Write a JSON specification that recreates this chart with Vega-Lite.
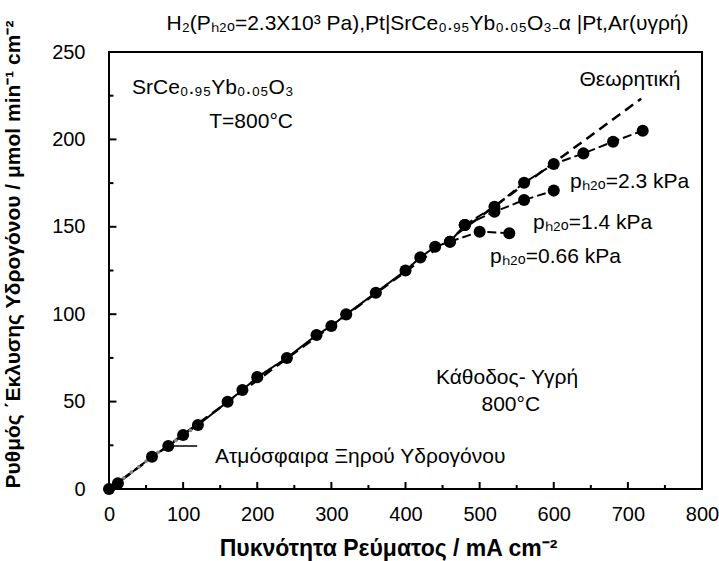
{
  "$schema": "https://vega.github.io/schema/vega-lite/v6.json",
  "width": 593,
  "height": 437,
  "autosize": {"type": "none"},
  "padding": {"left": 109, "top": 52, "right": 17, "bottom": 72},
  "background": "white",
  "config": {
    "font": "Liberation Sans",
    "view": {"stroke": "black", "strokeWidth": 2}
  },
  "title": {
    "text": "H₂(Pₕ₂ₒ=2.3X10³ Pa),Pt|SrCe₀.₉₅Yb₀.₀₅O₃₋α |Pt,Ar(υγρή)",
    "fontSize": 21,
    "fontWeight": "normal",
    "color": "black",
    "anchor": "middle",
    "dx": 22,
    "offset": -14
  },
  "datasets": {
    "theory": [
      {"x": 0, "y": 0},
      {"x": 718, "y": 223.3}
    ],
    "meas": [
      {"series": "common", "kind": "solid", "x": 0, "y": 0},
      {"series": "common", "kind": "solid", "x": 12, "y": 3.3},
      {"series": "common", "kind": "solid", "x": 58, "y": 18.5},
      {"series": "common", "kind": "solid", "x": 80, "y": 24.6},
      {"series": "common", "kind": "solid", "x": 100, "y": 30.9},
      {"series": "common", "kind": "solid", "x": 120, "y": 36.6},
      {"series": "common", "kind": "solid", "x": 160, "y": 49.9},
      {"series": "common", "kind": "solid", "x": 180, "y": 56.6},
      {"series": "common", "kind": "solid", "x": 200, "y": 64},
      {"series": "common", "kind": "solid", "x": 240, "y": 75},
      {"series": "common", "kind": "solid", "x": 280, "y": 88.1},
      {"series": "common", "kind": "solid", "x": 300, "y": 93.2},
      {"series": "common", "kind": "solid", "x": 320, "y": 99.9},
      {"series": "common", "kind": "solid", "x": 360, "y": 112.3},
      {"series": "common", "kind": "solid", "x": 400, "y": 125},
      {"series": "common", "kind": "solid", "x": 420, "y": 132.5},
      {"series": "common", "kind": "solid", "x": 440, "y": 138.6},
      {"series": "common", "kind": "solid", "x": 460, "y": 141.5},
      {"series": "common", "kind": "solid", "x": 480, "y": 151},
      {"series": "2.3", "kind": "dash", "x": 480, "y": 151},
      {"series": "2.3", "kind": "dash", "x": 520, "y": 161.5},
      {"series": "2.3", "kind": "dash", "x": 560, "y": 175.2},
      {"series": "2.3", "kind": "dash", "x": 600, "y": 185.9},
      {"series": "2.3", "kind": "dash", "x": 640, "y": 192},
      {"series": "2.3", "kind": "dash", "x": 680, "y": 198.7},
      {"series": "2.3", "kind": "dash", "x": 720, "y": 205},
      {"series": "1.4", "kind": "dash", "x": 480, "y": 151},
      {"series": "1.4", "kind": "dash", "x": 520, "y": 158.6},
      {"series": "1.4", "kind": "dash", "x": 560, "y": 165.3},
      {"series": "1.4", "kind": "dash", "x": 600, "y": 170.7},
      {"series": "0.66", "kind": "dash", "x": 460, "y": 141.5},
      {"series": "0.66", "kind": "dash", "x": 500, "y": 147.2},
      {"series": "0.66", "kind": "dash", "x": 540, "y": 146.3}
    ],
    "dry": [
      {"x": 4, "y": 1.4},
      {"x": 20, "y": 6.4},
      {"x": 30, "y": 9.6},
      {"x": 40, "y": 12.7},
      {"x": 50, "y": 15.9},
      {"x": 66, "y": 20.9},
      {"x": 90, "y": 27.8},
      {"x": 110, "y": 33.6}
    ],
    "leader": [
      {"x": 86, "x2": 119, "y": 24.6}
    ],
    "xMajor": [{"v": 100}, {"v": 200}, {"v": 300}, {"v": 400}, {"v": 500}, {"v": 600}, {"v": 700}],
    "xMinor": [{"v": 50}, {"v": 150}, {"v": 250}, {"v": 350}, {"v": 450}, {"v": 550}, {"v": 650}, {"v": 750}],
    "yMajor": [{"v": 50}, {"v": 100}, {"v": 150}, {"v": 200}],
    "yMinor": [{"v": 25}, {"v": 75}, {"v": 125}, {"v": 175}, {"v": 225}],
    "labelsLeft": [
      {"x": 31, "y": 229.4, "t": "SrCe₀.₉₅Yb₀.₀₅O₃"},
      {"x": 621.9, "y": 175.6, "t": "pₕ₂ₒ=2.3 kPa"},
      {"x": 572, "y": 152.2, "t": "pₕ₂ₒ=1.4 kPa"},
      {"x": 514, "y": 132.7, "t": "pₕ₂ₒ=0.66 kPa"},
      {"x": 143, "y": 18.3, "t": "Ατμόσφαιρα Ξηρού Υδρογόνου"}
    ],
    "labelsRight": [
      {"x": 248.2, "y": 210, "t": "T=800°C"}
    ],
    "labelsCenter": [
      {"x": 702.8, "y": 234, "t": "Θεωρητική"},
      {"x": 537, "y": 63.5, "t": "Κάθοδος- Υγρή"},
      {"x": 542, "y": 48, "t": "800°C"}
    ]
  },
  "layer": [
    {
      "data": {"name": "theory"},
      "mark": {"type": "line", "color": "black", "strokeWidth": 2.5, "strokeDash": [10, 6]},
      "encoding": {
        "x": {
          "field": "x", "type": "quantitative",
          "scale": {"domain": [0, 800], "nice": false, "zero": false},
          "axis": {
            "title": "Πυκνότητα Ρεύματος  / mA cm⁻²",
            "values": [0, 100, 200, 300, 400, 500, 600, 700, 800],
            "domain": false,
            "grid": false,
            "ticks": false,
            "labelFontSize": 20,
            "labelColor": "black",
            "labelPadding": 15,
            "labelFlush": false,
            "titleFontSize": 23,
            "titleFontWeight": "bold",
            "titleColor": "black",
            "titleX": 279,
            "titleY": 59,
            "titleBaseline": "middle",
            "titleAlign": "center"
          }
        },
        "y": {
          "field": "y", "type": "quantitative",
          "scale": {"domain": [0, 250], "nice": false, "zero": false},
          "axis": {
            "title": "Ρυθμός ΄Εκλυσης Υδρογόνου / μmol min⁻¹ cm⁻²",
            "values": [0, 50, 100, 150, 200, 250],
            "domain": false,
            "grid": false,
            "ticks": false,
            "labelFontSize": 20,
            "labelColor": "black",
            "labelPadding": 24,
            "labelFlush": false,
            "titleFontSize": 21,
            "titleFontWeight": "bold",
            "titleColor": "black",
            "titleAngle": -90,
            "titleX": -86,
            "titleY": 202,
            "titleBaseline": "bottom",
            "titleAlign": "center"
          }
        }
      }
    },
    {
      "data": {"name": "xMajor"},
      "mark": {"type": "rule", "color": "black", "strokeWidth": 2},
      "encoding": {
        "x": {"field": "v", "type": "quantitative"},
        "y": {"datum": 0, "type": "quantitative"},
        "y2": {"datum": 4}
      }
    },
    {
      "data": {"name": "xMinor"},
      "mark": {"type": "rule", "color": "black", "strokeWidth": 2},
      "encoding": {
        "x": {"field": "v", "type": "quantitative"},
        "y": {"datum": 0, "type": "quantitative"},
        "y2": {"datum": 2.3}
      }
    },
    {
      "data": {"name": "yMajor"},
      "mark": {"type": "rule", "color": "black", "strokeWidth": 2},
      "encoding": {
        "y": {"field": "v", "type": "quantitative"},
        "x": {"datum": 0, "type": "quantitative"},
        "x2": {"datum": 10}
      }
    },
    {
      "data": {"name": "yMinor"},
      "mark": {"type": "rule", "color": "black", "strokeWidth": 2},
      "encoding": {
        "y": {"field": "v", "type": "quantitative"},
        "x": {"datum": 0, "type": "quantitative"},
        "x2": {"datum": 6}
      }
    },
    {
      "data": {"name": "meas"},
      "mark": {"type": "line", "color": "black", "strokeWidth": 2},
      "encoding": {
        "x": {"field": "x", "type": "quantitative"},
        "y": {"field": "y", "type": "quantitative"},
        "detail": {"field": "series"},
        "strokeDash": {
          "field": "kind", "type": "nominal",
          "scale": {"domain": ["solid", "dash"], "range": [[1, 0], [9, 4]]},
          "legend": null
        }
      }
    },
    {
      "data": {"name": "dry"},
      "mark": {"type": "circle", "color": "#888888", "size": 14, "opacity": 1},
      "encoding": {
        "x": {"field": "x", "type": "quantitative"},
        "y": {"field": "y", "type": "quantitative"}
      }
    },
    {
      "data": {"name": "meas"},
      "mark": {"type": "circle", "color": "black", "size": 145, "opacity": 1},
      "encoding": {
        "x": {"field": "x", "type": "quantitative"},
        "y": {"field": "y", "type": "quantitative"}
      }
    },
    {
      "data": {"name": "leader"},
      "mark": {"type": "rule", "color": "black", "strokeWidth": 1.5},
      "encoding": {
        "x": {"field": "x", "type": "quantitative"},
        "x2": {"field": "x2"},
        "y": {"field": "y", "type": "quantitative"}
      }
    },
    {
      "data": {"name": "labelsLeft"},
      "mark": {"type": "text", "align": "left", "baseline": "middle", "fontSize": 21, "color": "black"},
      "encoding": {
        "x": {"field": "x", "type": "quantitative"},
        "y": {"field": "y", "type": "quantitative"},
        "text": {"field": "t"}
      }
    },
    {
      "data": {"name": "labelsRight"},
      "mark": {"type": "text", "align": "right", "baseline": "middle", "fontSize": 21, "color": "black"},
      "encoding": {
        "x": {"field": "x", "type": "quantitative"},
        "y": {"field": "y", "type": "quantitative"},
        "text": {"field": "t"}
      }
    },
    {
      "data": {"name": "labelsCenter"},
      "mark": {"type": "text", "align": "center", "baseline": "middle", "fontSize": 21, "color": "black"},
      "encoding": {
        "x": {"field": "x", "type": "quantitative"},
        "y": {"field": "y", "type": "quantitative"},
        "text": {"field": "t"}
      }
    }
  ]
}
